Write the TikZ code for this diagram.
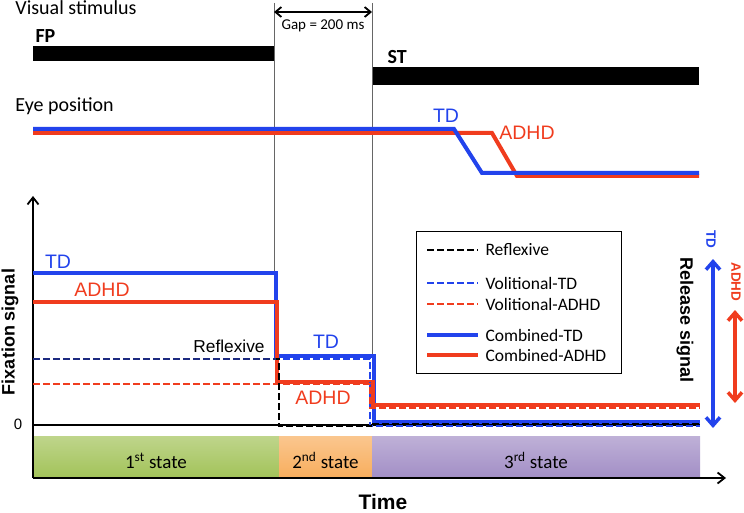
\documentclass[tikz,border=0pt]{standalone}
\usepackage{fontspec}
\setmainfont{Carlito}
\newfontfamily\arialf{Liberation Sans}
\usetikzlibrary{arrows.meta, positioning}
\definecolor{cblue}{HTML}{2243EC}
\definecolor{cred}{HTML}{F03C1E}
\definecolor{cnavy}{HTML}{1C2A80}
\definecolor{sgreen}{HTML}{A3C35A}
\definecolor{sorange}{HTML}{F8AE5E}
\definecolor{spurple}{HTML}{A38FC6}
\newcommand{\fsz}[1]{\fontsize{#1}{#1}\selectfont}
\tikzset{
  every picture/.style={line width=1pt},
  hdr/.style={font=\fsz{20}, inner sep=0pt},
  tag/.style={font=\fsz{20}\bfseries, inner sep=0pt},
  grp/.style={font=\arialf\fsz{19.5}, text=#1, inner sep=0pt},
  axlbl/.style={font=\arialf\bfseries\fsz{18}, inner sep=0pt},
  reltag/.style={font=\arialf\bfseries\fsz{13.5}, text=#1, inner sep=0pt, rotate=-90},
  legtxt/.style={font=\fsz{17.5}, anchor=west, inner sep=0pt},
  statetxt/.style={font=\fsz{19}, anchor=base, inner sep=0pt},
  gapline/.style={draw=black!60, line width=0.6pt},
  axis/.style={-{Straight Barb[length=7pt, width=11pt]}, line width=1.8pt},
  refl/.style={draw=black, line width=2.6pt, dash pattern=on 7pt off 3pt},
  voltd/.style={draw=cblue, line width=2.6pt, dash pattern=on 7pt off 3pt},
  voladhd/.style={draw=cred, line width=2.6pt, dash pattern=on 7pt off 3pt},
  combtd/.style={draw=cblue, line width=4pt},
  combadhd/.style={draw=cred, line width=4pt},
  release/.style={{Straight Barb[length=8pt, width=14pt]}-{Straight Barb[length=8pt, width=14pt]}, draw=#1, line width=3.5pt},
}

\begin{document}
\begin{tikzpicture}[x=1pt, y=-1pt]
  \useasboundingbox (0,0) rectangle (744,513);

  % visual stimulus
  \node[hdr, anchor=base west] (vis) at (15,15) {Visual stimulus};
  \node[tag, anchor=base west] (fp) at (35,43) {FP};
  \fill (33,46) rectangle (274,61);
  \node[tag, anchor=base west] (st) at (387,64) {ST};
  \fill (372,67) rectangle (699,85);
  \coordinate (gapL) at (274,3);
  \coordinate (gapR) at (372,3);
  \coordinate (gapLb) at (274,273);
  \coordinate (gapRb) at (372,356);
  \draw[gapline] (gapL) -- (gapLb);
  \draw[gapline] (gapR) -- (gapRb);
  \draw[{Straight Barb[length=6pt, width=10pt]}-{Straight Barb[length=6pt, width=10pt]}, line width=1.8pt]
    ([yshift=-9pt]gapL) -- ([yshift=-9pt]gapR);
  \node[font=\fsz{15}, inner sep=0pt] (gap) at (323,26) {Gap = 200 ms};

  % eye position
  \node[hdr, anchor=base west] (eye) at (15,112) {Eye position};
  \draw[combadhd] (33,133) -- (492,133) -- (517,176) -- (699,176);
  \draw[combtd] (33,129) -- (454,129) -- (482,173) -- (699,173);
  \node[grp=cblue] (eyetd) at (446,116) {TD};
  \node[grp=cred] (eyeadhd) at (527,133) {ADHD};

  % states
  \foreach \i/\xa/\xb/\c/\txt in {1/33/279/sgreen/{1\textsuperscript{st} state},
      2/279/372/sorange/{2\textsuperscript{nd} state}, 3/372/700/spurple/{3\textsuperscript{rd} state}} {
    \shade[top color=\c!70!white, bottom color=\c] (\xa,436) rectangle (\xb,477);
    \node[statetxt] (s\i) at ({(\xa+\xb)/2},468) {\txt};
  }

  % axes
  \coordinate (orig) at (33,478);
  \draw[axis] (orig) -- (33,196);
  \draw[axis] (orig) -- (726,478);
  \draw[line width=1.5pt] (33,425) -- (700,425);
  \node[font=\arialf\fsz{15}, inner sep=0pt] (zero) at (18,424) {0};
  \node[axlbl, rotate=90] (fix) at (10,332) {Fixation signal};
  \node[axlbl, font=\arialf\bfseries\fsz{21}] (time) at (383,502) {Time};

  % signals
  \draw[combtd] (33,273) -| (276,356) -| (374,422) -- (700,422);
  \draw[combadhd] (33,302) -| (277,382) -| (373,405) -- (700,405);
  \draw[voltd] (33,359) -| (370,426) -- (700,426);
  \draw[voladhd] (33,384) -| (370,408) -- (700,408);
  \draw[refl] (33,359) -| (279,426) -- (372,426);
  \draw[refl] (372,424) -- (700,424);
  \draw[refl, draw=cnavy] (33,359) -- (276,359);
  \node[grp=cblue] (td1) at (58,262) {TD};
  \node[grp=cred] (adhd1) at (102,290) {ADHD};
  \node[grp=cblue] (td2) at (326,342) {TD};
  \node[grp=cred] (adhd2) at (323,398) {ADHD};
  \node[font=\arialf\fsz{17.3}, inner sep=0pt] (refltxt) at (229,346) {Reflexive};

  % legend
  \draw[line width=0.8pt] (416,231) rectangle (621,373);
  \foreach \y/\sty/\txt in {250/refl/Reflexive, 283/voltd/Volitional-TD, 304/voladhd/Volitional-ADHD,
      335/combtd/Combined-TD, 355/combadhd/Combined-ADHD} {
    \draw[\sty] (427,\y) -- (478,\y);
    \node[legtxt] at (485,\y) {\txt};
  }

  % release signal
  \node[axlbl, rotate=-90] (rel) at (685,320) {Release signal};
  \coordinate (tdtop) at (713,259);
  \coordinate (tdbot) at (713,428);
  \coordinate (adtop) at (735,310);
  \coordinate (adbot) at (735,403);
  \draw[release=cblue] (tdtop) -- (tdbot);
  \draw[release=cred] (adtop) -- (adbot);
  \node[reltag=cblue] (reltd) at (711,239) {TD};
  \node[reltag=cred] (reladhd) at (736,282) {ADHD};
\end{tikzpicture}
\end{document}
